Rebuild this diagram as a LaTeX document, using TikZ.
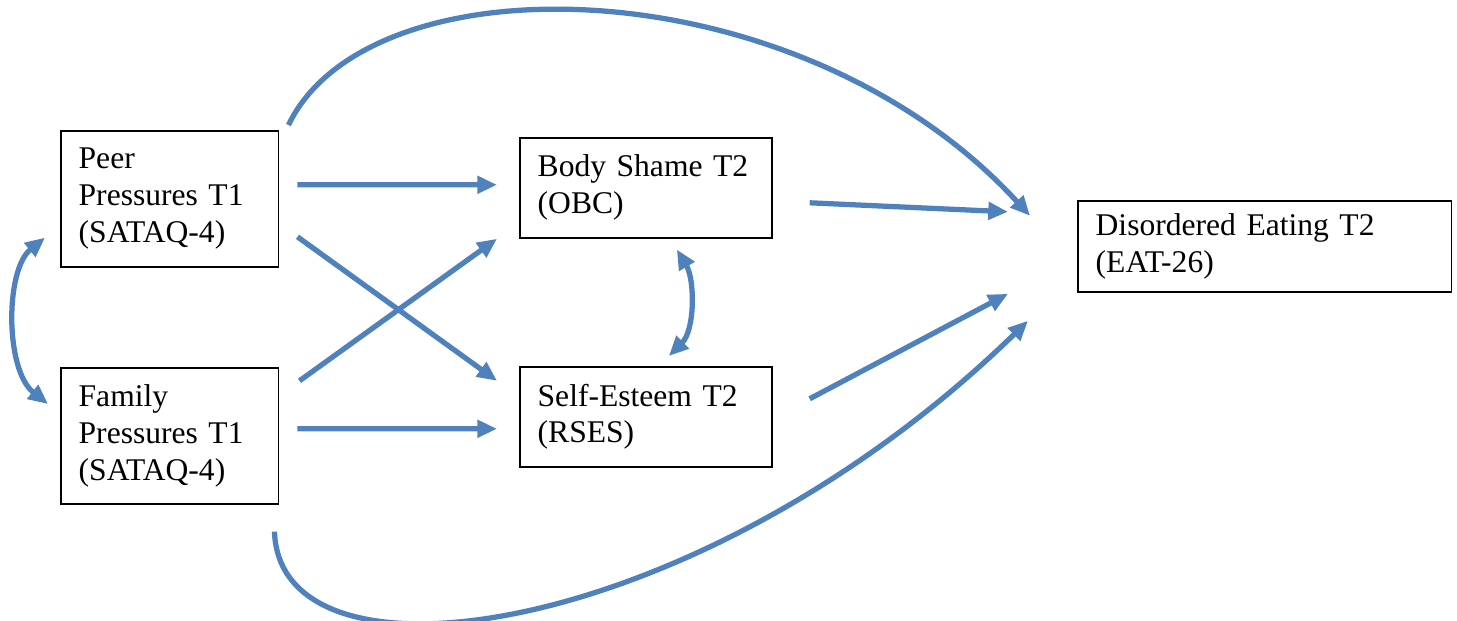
\documentclass[tikz,border=0pt]{standalone}
\usepackage{fontspec}
\setmainfont{Liberation Serif}
\usetikzlibrary{arrows.meta, calc}
\definecolor{arrowblue}{RGB}{79,129,189}
\tikzstyle{block} = [rectangle, draw, line width=0.6pt, inner xsep=6.8pt, inner ysep=0pt, align=left, anchor=north west, font=\fontsize{12}{14}\selectfont]
\tikzstyle{line} = [draw=arrowblue, line width=2pt, -{Triangle[length=7.5pt,width=6.5pt]}]
\tikzstyle{dline} = [draw=arrowblue, line width=2pt, {Triangle[length=7.5pt,width=6.5pt]}-{Triangle[length=7.5pt,width=6.5pt]}]

\begin{document}
\begin{tikzpicture}[x=0.38pt, y=-0.38pt]
\useasboundingbox (0,0) rectangle (1457,621);

\node [block, text width=69.2pt, minimum height=51.7pt] (peer) at (60,130) {Peer\\Pressures T1\\(SATAQ-4)};
\node [block, text width=69.2pt, minimum height=51.7pt] (family) at (60,367) {Family\\Pressures T1\\(SATAQ-4)};
\node [block, text width=82.2pt, minimum height=38pt] (body) at (519,137) {Body Shame T2\\(OBC)};
\node [block, text width=82.2pt, minimum height=38pt] (self) at (519,366) {Self-Esteem T2\\(RSES)};
\node [block, text width=128.4pt, minimum height=34.6pt] (diso) at (1077,200) {Disordered Eating T2\\(EAT-26)};

% direct paths
\path [line] ($(peer.east)+(18,-14)$) -- ($(body.west)+(-22,-3)$);
\path [line] ($(peer.east)+(18,38)$) -- ($(self.west)+(-22,-36)$);
\path [line] ($(family.east)+(20,-55)$) -- ($(body.west)+(-22,51)$);
\path [line] ($(family.east)+(18,-7)$) -- ($(self.west)+(-22,12)$);
\path [line] ($(body.east)+(37,15)$) -- ($(diso.west)+(-69,-34.5)$);
\path [line] ($(self.east)+(37,-18)$) -- ($(diso.west)+(-69,47.5)$);

% long curves
\path [line] ($(peer.north east)+(9,-5)$) .. controls (370,-45) and (800,-35) .. ($(diso.west)+(-47,-30.5)$);
\path [line] ($(family.south east)+(-5,27)$) .. controls (280,700) and (700,640) .. ($(diso.west)+(-49,74.5)$);

% covariances
\path [dline] ($(peer.south west)+(-15,-30)$) .. controls (5,270) and (5,370) .. ($(family.north west)+(-12,37)$);
\path [dline] ($(body.south)+(31,11)$) .. controls (695,280) and (695,330) .. ($(self.north)+(23,-10)$);

\end{tikzpicture}
\end{document}
